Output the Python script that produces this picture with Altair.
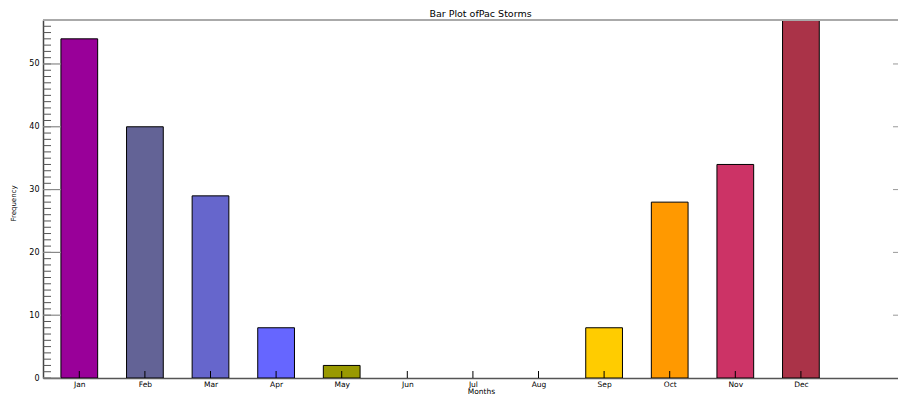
import json
import altair as alt
import pandas as pd

months = ["Jan", "Feb", "Mar", "Apr", "May", "Jun", "Jul", "Aug", "Sep", "Oct", "Nov", "Dec"]
month_idx = [1, 2, 3, 4, 5, 6, 7, 8, 9, 10, 11, 12]
counts = [54, 40, 29, 8, 2, 0, 0, 0, 8, 28, 34, 57]
bar_colors = ["#990099", "#636396", "#6666cc", "#6666ff", "#999900", "#ffffff",
              "#ffffff", "#ffffff", "#ffcc00", "#ff9900", "#cc3366", "#aa3348"]
y_major = [0, 10, 20, 30, 40, 50]
y_minor = list(range(0, 58))
right_major = [10, 20, 30, 40, 50]

W, H = 855, 358
xs = alt.Scale(domain=[0.4466, 13.48], nice=False, zero=False)
ys = alt.Scale(domain=[0, 57], nice=False, zero=True)

FONT = "DejaVu Sans"
x_axis = alt.Axis(values=month_idx, labelExpr=json.dumps(months) + "[datum.value - 1]",
                  title="Months", titleX=438, titleY=13.5, titleBaseline="middle",
                  titleAlign="center", titleAnchor="start",
                  titleFontSize=7.5, titleFontWeight="normal", titleFont=FONT, titleColor="black",
                  labelFont=FONT, labelFontSize=7.5, labelColor="black", labelPadding=2,
                  tickSize=0, domainColor="#555", domainWidth=1.5, grid=False, labelFlush=False)
y_axis = alt.Axis(values=y_major, title="Frequency", titleX=-30, titleY=183,
                  titleAlign="center", titleBaseline="middle", titleAngle=270,
                  titleAnchor="start",
                  titleFontSize=7, titleFontWeight="normal", titleFont=FONT, titleColor="black",
                  labelFont=FONT, labelFontSize=8, labelColor="black", labelPadding=4,
                  tickSize=0, domainColor="#444", domainWidth=1.5, grid=False)

df = pd.DataFrame({"month": months, "idx": month_idx, "count": counts})

bars = alt.Chart(df).transform_filter("datum.count > 0").transform_calculate(
    x0="datum.idx - 0.28", x1="datum.idx + 0.28"
).mark_bar(stroke="black", strokeWidth=1, clip=True).encode(
    x=alt.X("x0:Q", scale=xs, axis=x_axis),
    x2="x1:Q",
    y=alt.Y("count:Q", scale=ys, axis=y_axis),
    y2=alt.datum(0),
    color=alt.Color("month:N", scale=alt.Scale(domain=months, range=bar_colors), legend=None),
)

xticks = alt.Chart(df).mark_rule(color="black", strokeWidth=1).encode(
    x=alt.X("idx:Q", scale=xs, axis=x_axis),
    y=alt.value(H - 7), y2=alt.value(H),
)

minor_df = pd.DataFrame({"v": y_minor})
major_df = pd.DataFrame({"v": y_major})
right_df = pd.DataFrame({"v": right_major})

yminor = alt.Chart(minor_df).mark_rule(color="#555", strokeWidth=1).encode(
    y=alt.Y("v:Q", scale=ys, axis=y_axis), x=alt.value(0), x2=alt.value(8))
ymajor = alt.Chart(major_df).mark_rule(color="#888", strokeWidth=1.2).encode(
    y=alt.Y("v:Q", scale=ys, axis=y_axis), x=alt.value(0), x2=alt.value(18))
yright = alt.Chart(right_df).mark_rule(color="#999", strokeWidth=1).encode(
    y=alt.Y("v:Q", scale=ys, axis=y_axis), x=alt.value(W - 5), x2=alt.value(W))
topline = alt.Chart(df).mark_rule(color="#aaa", strokeWidth=1.5).encode(
    x=alt.value(0), x2=alt.value(W), y=alt.value(0))

chart = alt.layer(bars, xticks, yminor, ymajor, yright, topline).properties(
    width=W, height=H,
    title=alt.TitleParams("Bar Plot ofPac Storms", font=FONT, fontSize=9.5,
                          fontWeight="normal", color="black", offset=1, dx=10),
    autosize=alt.AutoSizeParams(type="none"),
    padding={"left": 35, "top": 12, "right": 0, "bottom": 18},
).configure_view(stroke=None).configure(background="white")

chart.save("out.html", embed_options={"renderer": "svg", "actions": False})
